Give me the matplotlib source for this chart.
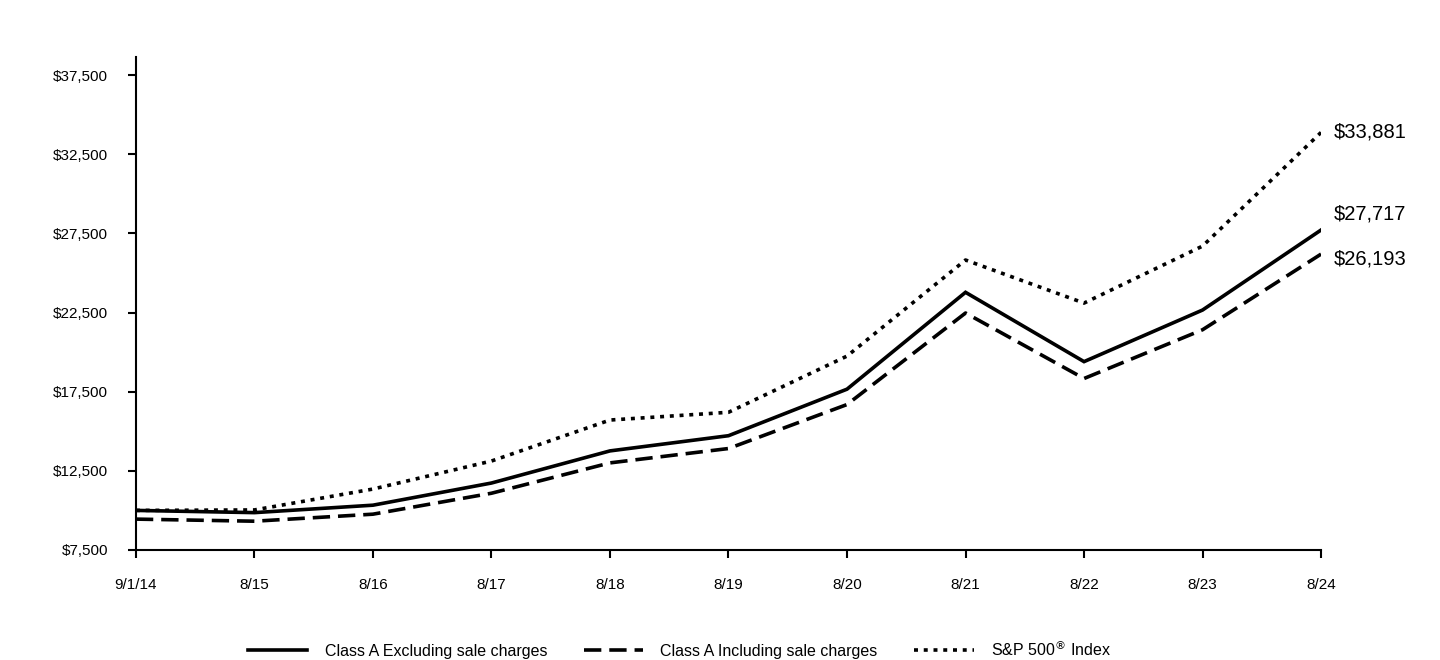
import matplotlib.pyplot as plt
from matplotlib.ticker import FuncFormatter

plt.rcParams['font.family'] = ['Liberation Sans', 'DejaVu Sans']

# Growth of a $10,000 investment
dates = ['9/1/14', '8/15', '8/16', '8/17', '8/18', '8/19', '8/20', '8/21', '8/22', '8/23', '8/24']
class_a_excl = [10000, 9860, 10330, 11730, 13760, 14720, 17660, 23780, 19400, 22660, 27717]
class_a_incl = [9450, 9318, 9762, 11085, 13003, 13910, 16689, 22472, 18333, 21414, 26193]
sp500 = [10000, 10030, 11350, 13120, 15710, 16200, 19750, 25820, 23100, 26700, 33881]
y_ticks = [7500, 12500, 17500, 22500, 27500, 32500, 37500]

fig = plt.figure(figsize=(14.4, 6.6), dpi=100)
ax = fig.add_axes([0.0944, 0.1667, 0.823, 0.747])

x = list(range(len(dates)))
ax.plot(x, class_a_excl, color='black', lw=2.6, solid_joinstyle='miter',
        label='Class A Excluding sale charges')
ax.plot(x, class_a_incl, color='black', lw=2.6, dashes=(4.8, 2.2), dash_capstyle='butt',
        label='Class A Including sale charges')
ax.plot(x, sp500, color='black', lw=2.6, dashes=(1.1, 1.6), dash_capstyle='butt',
        label='S&P 500$^{\u00ae}$ Index')

# end-of-period values
for vals, dy in [(sp500, 0), (class_a_excl, 11.5), (class_a_incl, -3.5)]:
    ax.annotate(f'${vals[-1]:,}', xy=(x[-1], vals[-1]), xytext=(9, dy),
                textcoords='offset points', va='center', ha='left', fontsize=14.5)

ax.set_xlim(0, 10)
ax.set_ylim(7500, 38650)
ax.set_xticks(x)
ax.set_xticklabels(dates)
ax.set_yticks(y_ticks)
ax.yaxis.set_major_formatter(FuncFormatter(lambda v, p: f'${v:,.0f}'))

for side in ['top', 'right']:
    ax.spines[side].set_visible(False)
for side in ['left', 'bottom']:
    ax.spines[side].set_linewidth(1.5)
ax.tick_params(axis='both', direction='out', length=6, width=1.5, labelsize=11, pad=14)

fig.legend(loc='lower center', bbox_to_anchor=(0.472, -0.02), ncol=3, frameon=False,
           fontsize=11.5, handlelength=3.7, handletextpad=1.1, columnspacing=2.3)

fig.savefig('out.png', dpi=100)
